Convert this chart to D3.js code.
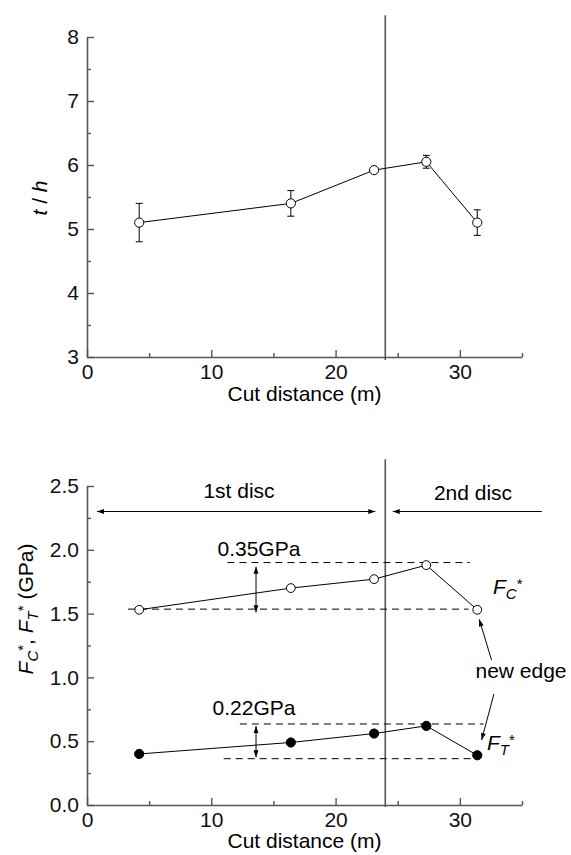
<!DOCTYPE html>
<html><head><meta charset="utf-8">
<script src="https://cdn.jsdelivr.net/npm/d3@7"></script>
<style>
body{margin:0;background:#fff;}
svg{display:block;font-family:Arial,"Liberation Sans",sans-serif;}
</style></head>
<body>
<svg id="c" width="571" height="855"></svg>
<script>
// ---------- data ----------
const cutDistance = [4.2, 16.4, 23.1, 27.3, 31.4];
const thickness = [5.1, 5.4, 5.92, 6.05, 5.1];       // t/h
const thicknessErr = [0.3, 0.2, 0, 0.1, 0.2];
const FC = [1.53, 1.70, 1.77, 1.88, 1.53];
const FT = [0.40, 0.49, 0.56, 0.62, 0.39];
const discBoundary = 24;
const xTicks = [0, 10, 20, 30];
const xMinor = [5, 15, 25, 35];
const yTopTicks = [3, 4, 5, 6, 7, 8];
const yTopMinor = [3.5, 4.5, 5.5, 6.5, 7.5];
const yBotTicks = [0, 0.5, 1.0, 1.5, 2.0, 2.5];
const yBotMinor = [0.25, 0.75, 1.25, 1.75, 2.25];
// reference dashed lines [value, xStart, xEnd]
const dashedLines = [[1.90, 11.3, 30.8], [1.535, 3.3, 30.7], [0.635, 12.3, 31.9], [0.363, 11.0, 31.0]];
// double-headed range arrows [x, y1, y2]
const rangeArrows = [[13.6, 1.868, 1.51], [13.6, 0.619, 0.374]];
const rangeLabels = [["0.35GPa", 10.5, 1.95], ["0.22GPa", 10.1, 0.705]];
// new-edge arrows [x1,y1,x2,y2]
const edgeArrows = [[32.55, 1.136, 31.56, 1.455], [32.74, 0.870, 31.75, 0.509]];

const svg = d3.select("#c");
const axisColor = "#555";
const FS = 21;

// ---------- scales ----------
const x = d3.scaleLinear().domain([0, 35]).range([87, 522]);
const yT = d3.scaleLinear().domain([3, 8]).range([357, 37]);
const yB = d3.scaleLinear().domain([0, 2.5]).range([805, 486]);

// markers
const defs = svg.append("defs");
function mk(id, orient) {
  defs.append("marker").attr("id", id).attr("viewBox", "0 -5 10 10")
    .attr("refX", 10).attr("refY", 0).attr("markerWidth", 9).attr("markerHeight", 7)
    .attr("markerUnits", "userSpaceOnUse").attr("orient", orient)
    .append("path").attr("d", "M0,-3.5L10,0L0,3.5Z").attr("fill", "#000");
}
mk("ah", "auto"); mk("ahs", "auto-start-reverse");

function drawAxes(g, yScale, yTicks, yMinor, yFmt, axisY) {
  const xa = g.append("g").attr("transform", `translate(0,${axisY})`)
    .call(d3.axisBottom(x).tickValues(xTicks).tickSizeInner(-7).tickSizeOuter(0).tickPadding(7).tickFormat(d3.format("d")));
  const xm = g.append("g").attr("transform", `translate(0,${axisY})`)
    .call(d3.axisBottom(x).tickValues(xMinor).tickSizeInner(-4).tickSizeOuter(0).tickFormat(""));
  xm.select(".domain").remove();
  const ya = g.append("g").attr("transform", `translate(${x(0)},0)`)
    .call(d3.axisLeft(yScale).tickValues(yTicks).tickSizeInner(-7).tickSizeOuter(0).tickPadding(8).tickFormat(yFmt));
  const ym = g.append("g").attr("transform", `translate(${x(0)},0)`)
    .call(d3.axisLeft(yScale).tickValues(yMinor).tickSizeInner(-4).tickSizeOuter(0).tickFormat(""));
  ym.select(".domain").remove();
  g.selectAll(".domain").attr("stroke", axisColor).attr("stroke-width", 1.6);
  g.selectAll(".tick line").attr("stroke", axisColor).attr("stroke-width", 1.4);
  g.selectAll(".tick text").attr("font-size", FS).attr("fill", "#111").attr("font-family", "Arial, 'Liberation Sans', sans-serif");
}

// ---------- top chart ----------
const gT = svg.append("g");
drawAxes(gT, yT, yTopTicks, yTopMinor, d3.format("d"), 357);
gT.append("line").attr("x1", x(discBoundary)).attr("x2", x(discBoundary))
  .attr("y1", yT(8.34)).attr("y2", 360).attr("stroke", axisColor).attr("stroke-width", 1.6);
const topData = cutDistance.map((d, i) => ({x: d, y: thickness[i], e: thicknessErr[i]}));
gT.append("path").datum(topData).attr("fill", "none").attr("stroke", "#000").attr("stroke-width", 1)
  .attr("d", d3.line().x(d => x(d.x)).y(d => yT(d.y)));
const eb = gT.selectAll(".eb").data(topData.filter(d => d.e > 0)).join("g");
eb.append("line").attr("x1", d => x(d.x)).attr("x2", d => x(d.x)).attr("y1", d => yT(d.y + d.e)).attr("y2", d => yT(d.y - d.e)).attr("stroke", "#000");
eb.append("line").attr("x1", d => x(d.x) - 3.5).attr("x2", d => x(d.x) + 3.5).attr("y1", d => yT(d.y + d.e)).attr("y2", d => yT(d.y + d.e)).attr("stroke", "#000");
eb.append("line").attr("x1", d => x(d.x) - 3.5).attr("x2", d => x(d.x) + 3.5).attr("y1", d => yT(d.y - d.e)).attr("y2", d => yT(d.y - d.e)).attr("stroke", "#000");
gT.selectAll(".pt").data(topData).join("circle").attr("cx", d => x(d.x)).attr("cy", d => yT(d.y)).attr("r", 4.6)
  .attr("fill", "#fff").attr("stroke", "#000").attr("stroke-width", 1);
gT.append("text").attr("x", x(17.5)).attr("y", 401).attr("text-anchor", "middle").attr("font-size", FS).text("Cut distance (m)");
const tt = gT.append("text").attr("transform", "translate(47,198) rotate(-90)").attr("text-anchor", "middle").attr("font-size", FS);
tt.append("tspan").attr("font-style", "italic").text("t");
tt.append("tspan").text(" / ");
tt.append("tspan").attr("font-style", "italic").text("h");

// ---------- bottom chart ----------
const gB = svg.append("g");
drawAxes(gB, yB, yBotTicks, yBotMinor, d3.format(".1f"), 805);
gB.append("line").attr("x1", x(discBoundary)).attr("x2", x(discBoundary))
  .attr("y1", yB(2.71)).attr("y2", 807).attr("stroke", axisColor).attr("stroke-width", 1.6);

// dashed reference lines
gB.selectAll(".dl").data(dashedLines).join("line")
  .attr("x1", d => x(d[1])).attr("x2", d => x(d[2])).attr("y1", d => yB(d[0])).attr("y2", d => yB(d[0]))
  .attr("stroke", "#000").attr("stroke-width", 1).attr("stroke-dasharray", "7,5");

const fcData = cutDistance.map((d, i) => ({x: d, y: FC[i]}));
const ftData = cutDistance.map((d, i) => ({x: d, y: FT[i]}));
const ln = d3.line().x(d => x(d.x)).y(d => yB(d.y));
gB.append("path").datum(fcData).attr("fill", "none").attr("stroke", "#000").attr("d", ln);
gB.append("path").datum(ftData).attr("fill", "none").attr("stroke", "#000").attr("d", ln);
gB.selectAll(".fc").data(fcData).join("circle").attr("cx", d => x(d.x)).attr("cy", d => yB(d.y)).attr("r", 4.4)
  .attr("fill", "#fff").attr("stroke", "#000");
gB.selectAll(".ft").data(ftData).join("circle").attr("cx", d => x(d.x)).attr("cy", d => yB(d.y)).attr("r", 4.6)
  .attr("fill", "#000").attr("stroke", "#000");

// disc arrows
gB.append("line").attr("x1", x(0.8)).attr("x2", x(23.2)).attr("y1", yB(2.3)).attr("y2", yB(2.3))
  .attr("stroke", "#000").attr("marker-start", "url(#ahs)").attr("marker-end", "url(#ah)");
gB.append("line").attr("x1", x(36.6)).attr("x2", x(24.6)).attr("y1", yB(2.3)).attr("y2", yB(2.3))
  .attr("stroke", "#000").attr("marker-end", "url(#ah)");
gB.append("text").attr("x", 239).attr("y", 498).attr("text-anchor", "middle").attr("font-size", FS).text("1st disc");
gB.append("text").attr("x", 473).attr("y", 500).attr("text-anchor", "middle").attr("font-size", FS).text("2nd disc");

// range arrows and labels
gB.selectAll(".ra").data(rangeArrows).join("line")
  .attr("x1", d => x(d[0])).attr("x2", d => x(d[0])).attr("y1", d => yB(d[1])).attr("y2", d => yB(d[2]))
  .attr("stroke", "#000").attr("marker-start", "url(#ahs)").attr("marker-end", "url(#ah)");
gB.selectAll(".rl").data(rangeLabels).join("text")
  .attr("x", d => x(d[1])).attr("y", d => yB(d[2])).attr("font-size", FS).text(d => d[0]);

// new edge
gB.selectAll(".ea").data(edgeArrows).join("line")
  .attr("x1", d => x(d[0])).attr("y1", d => yB(d[1])).attr("x2", d => x(d[2])).attr("y2", d => yB(d[3]))
  .attr("stroke", "#000").attr("marker-end", "url(#ah)");
gB.append("text").attr("x", 521).attr("y", 678).attr("text-anchor", "middle").attr("font-size", FS).text("new edge");

function fLabel(sel, sub) {
  sel.append("tspan").attr("font-style", "italic").text("F");
  sel.append("tspan").attr("font-style", "italic").attr("font-size", 15).attr("dy", 5).text(sub);
  sel.append("tspan").attr("font-size", 15).attr("dy", -10).text("*");
}
const lc = gB.append("text").attr("x", 493).attr("y", 594).attr("font-size", FS);
fLabel(lc, "C");
const lt = gB.append("text").attr("x", 487).attr("y", 750).attr("font-size", FS);
fLabel(lt, "T");

gB.append("text").attr("x", x(17.5)).attr("y", 848).attr("text-anchor", "middle").attr("font-size", FS).text("Cut distance (m)");
const yl = gB.append("text").attr("transform", "translate(33,609) rotate(-90)").attr("text-anchor", "middle").attr("font-size", FS);
yl.append("tspan").attr("font-style", "italic").text("F");
yl.append("tspan").attr("font-style", "italic").attr("font-size", 15).attr("dy", 5).text("C");
yl.append("tspan").attr("font-size", 15).attr("dy", -10).text("*");
yl.append("tspan").attr("dy", 5).text(", ");
yl.append("tspan").attr("font-style", "italic").text("F");
yl.append("tspan").attr("font-style", "italic").attr("font-size", 15).attr("dy", 5).text("T");
yl.append("tspan").attr("font-size", 15).attr("dy", -10).text("*");
yl.append("tspan").attr("dy", 5).text(" (GPa)");
</script>
</body></html>
